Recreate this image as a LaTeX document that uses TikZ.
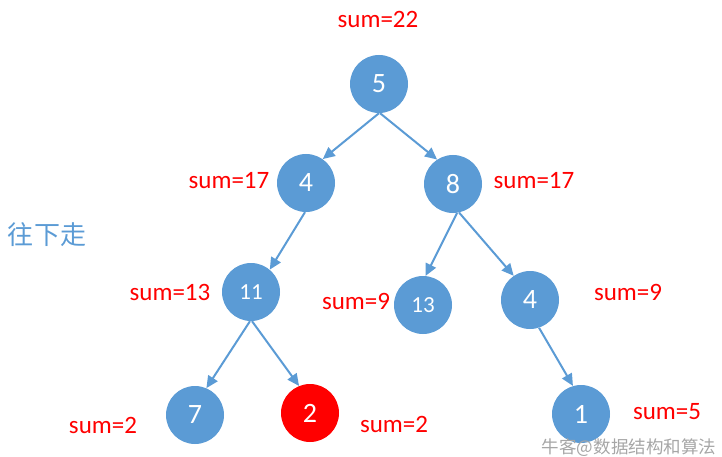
\documentclass[tikz,border=0pt]{standalone}
\usepackage{xcolor}
\usepackage{tikz}
\usepackage{fontspec}
\setmainfont{Carlito}
\newfontfamily\cjkfont{Noto Sans CJK SC}
\usetikzlibrary{positioning,arrows.meta}
\definecolor{nodeblue}{HTML}{5B9BD5}
\definecolor{sumred}{HTML}{FF0000}

\begin{document}
\begin{tikzpicture}[x=1pt,y=-1pt,
    tnode/.style={circle,fill=nodeblue,minimum size=58pt,inner sep=0pt,text=white,font=\fontsize{28}{30}\selectfont},
    tsmall/.style={tnode,font=\fontsize{23}{25}\selectfont},
    sumlabel/.style={text=sumred,font=\fontsize{25}{27}\selectfont,inner sep=0pt},
    link/.style={draw=nodeblue,line width=2pt,-{Triangle[length=12pt,width=11pt]}}]
    \useasboundingbox (0,0) rectangle (722,457);

    % Tree nodes
    \node[tnode] (n5) at (379,84) {5};
    \node[tnode] (n4) at (306,183) {4};
    \node[tnode] (n8) at (453,184) {8};
    \node[tsmall] (n11) at (251,292) {11};
    \node[tsmall] (n13) at (423,305) {13};
    \node[tnode] (n4r) at (530,300) {4};
    \node[tnode] (n7) at (195,415) {7};
    \node[tnode,fill=sumred] (n2) at (310,413) {2};
    \node[tnode] (n1) at (581,414) {1};

    % Edges
    \draw[link] (n5.south) -- (n4.55);
    \draw[link] (n5.-88) -- (n8.123);
    \draw[link] (n4.-92) -- (n11.50);
    \draw[link] (n8.-82) -- (n13.85);
    \draw[link] (n8.-78) -- (n4r.124);
    \draw[link] (n11.-92) -- (n7.67);
    \draw[link] (n11.-88) -- (n2.112);
    \draw[link] (n4r.-72) -- (n1.106);

    % Sums
    \node[sumlabel] (s5) at (378,19) {sum=22};
    \node[sumlabel] (s4) at (229,181) {sum=17};
    \node[sumlabel] (s8) at (534,181) {sum=17};
    \node[sumlabel] (s11) at (170,292) {sum=13};
    \node[sumlabel] (s13) at (356,301) {sum=9};
    \node[sumlabel] (s4r) at (628,292) {sum=9};
    \node[sumlabel] (s7) at (103,425) {sum=2};
    \node[sumlabel] (s2) at (394,424) {sum=2};
    \node[sumlabel] (s1) at (667,412) {sum=5};

    % Direction and watermark
    \node[text=nodeblue,font=\cjkfont\fontsize{26}{28}\selectfont] (down) at (47,235) {往下走};
    \node[text=gray!70,font=\cjkfont\fontsize{17.5}{19}\selectfont] (mark) at (629,448) {牛客@数据结构和算法};
\end{tikzpicture}
\end{document}
